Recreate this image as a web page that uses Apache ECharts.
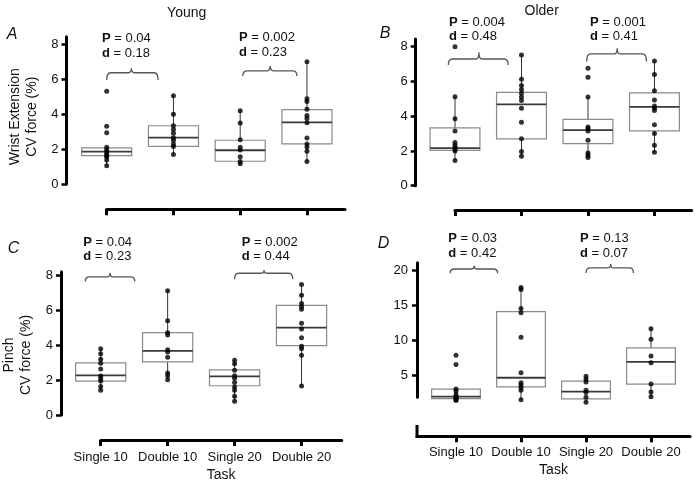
<!DOCTYPE html>
<html><head><meta charset="utf-8">
<script src="https://cdn.jsdelivr.net/npm/echarts@6/dist/echarts.min.js"></script>
<style>html,body{margin:0;padding:0;background:#fff}#c{width:695px;height:485px}</style>
</head><body><div id="c"></div>
<script>
const categories = ['Single 10', 'Double 10', 'Single 20', 'Double 20'];

// A: Young, wrist extension CV force (%)
const youngWristPoints = [
  [5.3, 3.3, 2.93, 2.1, 1.94, 1.83, 1.71, 1.6, 1.56, 1.37, 1.05],
  [5.05, 3.98, 3.33, 3.12, 2.9, 2.65, 2.5, 2.29, 2.15, 1.68],
  [4.19, 3.49, 2.53, 2.1, 1.94, 1.56, 1.28, 1.16],
  [6.99, 4.87, 4.72, 4.27, 3.92, 3.75, 3.5, 2.63, 2.29, 2.11, 1.87, 1.28]
];
// [whisker low, Q1, median, Q3, whisker high]
const youngWristBoxes = [
  [1.05, 1.62, 1.85, 2.07, 2.07],
  [1.68, 2.15, 2.65, 3.33, 5.05],
  [1.16, 1.3, 1.93, 2.5, 4.19],
  [1.28, 2.29, 3.52, 4.25, 6.99]
];
const youngWristStats = [['0.04', '0.18'], ['0.002', '0.23']];

// B: Older, wrist extension
const olderWristPoints = [
  [8.0, 5.12, 3.85, 3.15, 2.48, 2.33, 2.2, 2.1, 2.0, 1.45],
  [7.52, 6.12, 5.76, 5.54, 5.32, 5.1, 4.9, 4.46, 3.65, 2.7, 1.97, 1.7],
  [6.75, 6.24, 5.1, 3.38, 3.27, 3.15, 2.62, 1.88, 1.75, 1.62],
  [7.17, 6.4, 5.46, 4.93, 4.58, 4.45, 4.33, 3.5, 3.0, 2.33, 1.92]
];
const olderWristBoxes = [
  [1.45, 2.03, 2.16, 3.33, 5.12],
  [1.7, 2.69, 4.68, 5.37, 7.52],
  [1.62, 2.42, 3.2, 3.82, 5.1],
  [1.92, 3.15, 4.53, 5.34, 7.17]
];
const olderWristStats = [['0.004', '0.48'], ['0.001', '0.41']];

// C: Young, pinch
const youngPinchPoints = [
  [3.81, 3.52, 3.2, 2.97, 2.64, 2.24, 2.09, 1.95, 1.63, 1.42],
  [7.14, 5.42, 4.73, 4.6, 3.75, 3.62, 3.32, 2.41, 2.26, 2.03],
  [3.14, 2.95, 2.57, 2.26, 2.11, 1.86, 1.61, 1.42, 1.07, 0.79],
  [7.49, 6.88, 6.4, 6.22, 6.07, 5.27, 4.94, 4.44, 3.95, 3.81, 3.43, 1.67]
];
const youngPinchBoxes = [
  [1.42, 1.95, 2.28, 2.99, 3.81],
  [2.03, 3.05, 3.68, 4.73, 7.14],
  [0.79, 1.68, 2.22, 2.59, 3.14],
  [1.67, 3.98, 5.02, 6.3, 7.49]
];
const youngPinchStats = [['0.04', '0.23'], ['0.002', '0.44']];

// D: Older, pinch
const olderPinchPoints = [
  [7.9, 6.6, 3.1, 2.8, 2.3, 2.0, 1.9, 1.75, 1.6, 1.45],
  [17.6, 17.3, 14.6, 14.0, 10.5, 5.4, 4.0, 3.7, 3.3, 2.9, 1.55],
  [4.9, 4.5, 4.1, 2.9, 2.6, 1.9, 1.2],
  [11.7, 10.2, 7.8, 6.85, 3.8, 2.65, 2.0]
];
const olderPinchBoxes = [
  [1.45, 1.73, 2.0, 3.07, 3.1],
  [1.55, 3.4, 4.7, 14.15, 17.6],
  [1.2, 1.68, 2.73, 4.23, 4.9],
  [2.0, 3.8, 6.96, 8.98, 11.7]
];
const olderPinchStats = [['0.03', '0.42'], ['0.13', '0.07']];

// comparison brackets: [x start, x end, x peak, y line, y ends, y peak]
const youngWristBrackets = [[0, 0.77, 0.37, 6.36, 5.94, 6.61], [2.04, 2.85, 2.45, 6.47, 6.17, 6.74]];
const olderWristBrackets = [[-0.1, 0.8, 0.36, 7.29, 6.95, 7.68], [1.98, 2.88, 2.44, 7.58, 7.14, 7.91]];
const youngPinchBrackets = [[-0.23, 0.51, 0.14, 7.93, 7.67, 8.17], [2.0, 2.87, 2.44, 8.14, 7.79, 8.33]];
const olderPinchBrackets = [[-0.09, 0.64, 0.28, 20.24, 19.63, 20.72], [2.0, 2.73, 2.38, 20.39, 19.67, 20.96]];

const wristTicks = [0, 2, 4, 6, 8];
const pinchTicksYoung = [0, 2, 4, 6, 8];
const pinchTicksOlder = [5, 10, 15, 20];

const FONT = "'Liberation Sans', Arial, Helvetica, sans-serif";

const panels = [
  { points: youngWristPoints, boxes: youngWristBoxes, brackets: youngWristBrackets, stats: youngWristStats, yTicks: wristTicks,
    left: 106.7, top: 36.7, width: 238.3, height: 147.3, xMin: 0, xMax: 3.57, yMin: 0, yMax: 8.42,
    yOffset: 40.2, xOffset: 25.3, xLabels: false, labelMargin: 8,
    statPos: [[102, 38, 53], [239, 37.3, 52]] },
  { points: olderWristPoints, boxes: olderWristBoxes, brackets: olderWristBrackets, stats: olderWristStats, yTicks: wristTicks,
    left: 455, top: 39, width: 236.7, height: 146.7, xMin: 0, xMax: 3.56, yMin: 0, yMax: 8.44,
    yOffset: 39.3, xOffset: 24.3, xLabels: false, labelMargin: 8,
    statPos: [[449, 22.7, 36.7], [590, 22.7, 36.5]] },
  { points: youngPinchPoints, boxes: youngPinchBoxes, brackets: youngPinchBrackets, stats: youngPinchStats, yTicks: pinchTicksYoung,
    left: 100.7, top: 271.7, width: 241, height: 143.3, xMin: 0, xMax: 3.6, yMin: 0, yMax: 8.23,
    yOffset: 39.7, xOffset: 25, xLabels: true, labelMargin: 8, xLabelMargin: 11, nameGap: 28,
    statPos: [[83.3, 242.7, 256.7], [241.7, 242.7, 256.7]] },
  { points: olderPinchPoints, boxes: olderPinchBoxes, brackets: olderPinchBrackets, stats: olderPinchStats, yTicks: pinchTicksOlder,
    left: 417, top: 262.7, width: 273, height: 134.6, xMin: -0.6, xMax: 3.6, yMin: 1.91, yMax: 21.14,
    yOffset: 0, xOffset: 39, xLabels: true, labelMargin: 9, xLabelMargin: 10, nameGap: 27,
    statPos: [[448.3, 238.3, 253.3], [580, 238.3, 253.3]] }
];

function renderBox(params, api) {
  const x = api.value(0);
  const lo = api.coord([x, api.value(1)]);
  const q1 = api.coord([x, api.value(2)]);
  const med = api.coord([x, api.value(3)]);
  const q3 = api.coord([x, api.value(4)]);
  const hi = api.coord([x, api.value(5)]);
  const bw = api.size([1, 0])[0] * 0.75;
  const cx = q1[0];
  return {
    type: 'group',
    children: [
      { type: 'line', shape: { x1: cx, y1: lo[1], x2: cx, y2: q1[1] }, style: { stroke: '#333', lineWidth: 1 } },
      { type: 'line', shape: { x1: cx, y1: q3[1], x2: cx, y2: hi[1] }, style: { stroke: '#333', lineWidth: 1 } },
      { type: 'rect', shape: { x: cx - bw / 2, y: q3[1], width: bw, height: q1[1] - q3[1] },
        style: { fill: 'rgba(255,255,255,0)', stroke: '#8a8a8a', lineWidth: 1.2 } },
      { type: 'line', shape: { x1: cx - bw / 2, y1: med[1], x2: cx + bw / 2, y2: med[1] }, style: { stroke: '#3a3a3a', lineWidth: 1.8 } }
    ]
  };
}

function renderBracket(params, api) {
  const a = api.coord([api.value(0), api.value(4)]);
  const aH = api.coord([api.value(0), api.value(3)]);
  const b = api.coord([api.value(1), api.value(4)]);
  const p = api.coord([api.value(2), api.value(5)]);
  const yH = aH[1];
  const r = 4, s = 3;
  const d = `M${a[0]},${a[1]} Q${a[0]},${yH} ${a[0] + r},${yH} L${p[0] - s},${yH} Q${p[0]},${yH} ${p[0]},${p[1]} ` +
            `Q${p[0]},${yH} ${p[0] + s},${yH} L${b[0] - r},${yH} Q${b[0]},${yH} ${b[0]},${b[1]}`;
  return { type: 'path', shape: { pathData: d }, style: { fill: 'none', stroke: '#555', lineWidth: 1.3 } };
}

const grid = [], xAxis = [], yAxis = [], series = [], graphic = [];
panels.forEach((p, i) => {
  grid.push({ left: p.left, top: p.top, width: p.width, height: p.height });
  xAxis.push({
    gridIndex: i, type: 'value', min: p.xMin, max: p.xMax, position: 'bottom', offset: p.xOffset,
    axisLine: { show: true, onZero: false, lineStyle: { color: '#000', width: 3 } },
    axisTick: { show: true, customValues: [0, 1, 2, 3], length: 6, lineStyle: { color: '#000', width: 3 } },
    axisLabel: { show: p.xLabels, customValues: [0, 1, 2, 3], formatter: v => categories[Math.round(v)] || '',
      margin: p.xLabelMargin || 10, fontSize: 13, color: '#111', fontFamily: FONT },
    splitLine: { show: false },
    name: p.xLabels ? 'Task' : '', nameLocation: 'middle', nameGap: p.nameGap || 28,
    nameTextStyle: { fontSize: 14, color: '#111', fontFamily: FONT }
  });
  yAxis.push({
    gridIndex: i, type: 'value', min: p.yMin, max: p.yMax, position: 'left', offset: p.yOffset,
    axisLine: { show: true, onZero: false, lineStyle: { color: '#000', width: 3 } },
    axisTick: { show: true, customValues: p.yTicks, length: 5, lineStyle: { color: '#000', width: 2.5 } },
    axisLabel: { show: true, customValues: p.yTicks, margin: p.labelMargin, fontSize: 13, color: '#111', fontFamily: FONT },
    splitLine: { show: false }
  });
  series.push({
    type: 'custom', xAxisIndex: i, yAxisIndex: i, clip: false, renderItem: renderBox,
    encode: { x: 0, y: [1, 2, 3, 4, 5] },
    data: p.boxes.map((bx, k) => [k].concat(bx)), z: 2
  });
  const pts = [];
  p.points.forEach((arr, k) => arr.forEach(v => pts.push([k, v])));
  series.push({
    type: 'scatter', xAxisIndex: i, yAxisIndex: i, clip: false, symbolSize: 5,
    itemStyle: { color: '#000' }, data: pts, z: 3, silent: true
  });
  series.push({
    type: 'custom', xAxisIndex: i, yAxisIndex: i, clip: false, renderItem: renderBracket,
    encode: { x: [0, 1, 2], y: [3, 4, 5] }, data: p.brackets, z: 3
  });
  p.stats.forEach((st, k) => {
    const sp = p.statPos[k];
    graphic.push({ type: 'text', x: sp[0], y: sp[1], style: {
      text: '{b|P} = ' + st[0], fontSize: 13, fontFamily: FONT, fill: '#111', align: 'left', verticalAlign: 'middle',
      rich: { b: { fontWeight: 'bold', fontSize: 13, fontFamily: FONT, fill: '#111' } } } });
    graphic.push({ type: 'text', x: sp[0], y: sp[2], style: {
      text: '{b|d} = ' + st[1], fontSize: 13, fontFamily: FONT, fill: '#111', align: 'left', verticalAlign: 'middle',
      rich: { b: { fontWeight: 'bold', fontSize: 13, fontFamily: FONT, fill: '#111' } } } });
  });
});

// titles, panel letters, axis titles
const texts = [
  ['Young', 186.7, 13.3, 14, 'normal', 0],
  ['Older', 541.7, 11, 14, 'normal', 0],
  ['A', 12, 35, 16, 'italic', 0],
  ['B', 385, 33.5, 16, 'italic', 0],
  ['C', 13.5, 248.3, 16, 'italic', 0],
  ['D', 383.5, 243.5, 16, 'italic', 0],
  ['Wrist Extension', 15, 116.7, 14, 'normal', 90],
  ['CV force (%)', 31.7, 116.7, 14, 'normal', 90],
  ['Pinch', 9.5, 355, 14, 'normal', 90],
  ['CV force (%)', 26.5, 355, 14, 'normal', 90]
];
texts.forEach(t => {
  graphic.push({ type: 'text', x: t[1], y: t[2], rotation: t[5] * Math.PI / 180, style: {
    text: t[0], fontSize: t[3], fontStyle: t[4], fontFamily: FONT, fill: '#111', align: 'center', verticalAlign: 'middle' } });
});
// small vertical stub joining panel D's x-axis
graphic.push({ type: 'line', shape: { x1: panels[3].left, y1: 425, x2: panels[3].left, y2: panels[3].top + panels[3].height + panels[3].xOffset + 1.5 },
  style: { stroke: '#000', lineWidth: 3 } });

const chart = echarts.init(document.getElementById('c'), null, { renderer: 'canvas' });
chart.setOption({ animation: false, backgroundColor: '#fff', grid, xAxis, yAxis, series, graphic });
</script></body></html>
